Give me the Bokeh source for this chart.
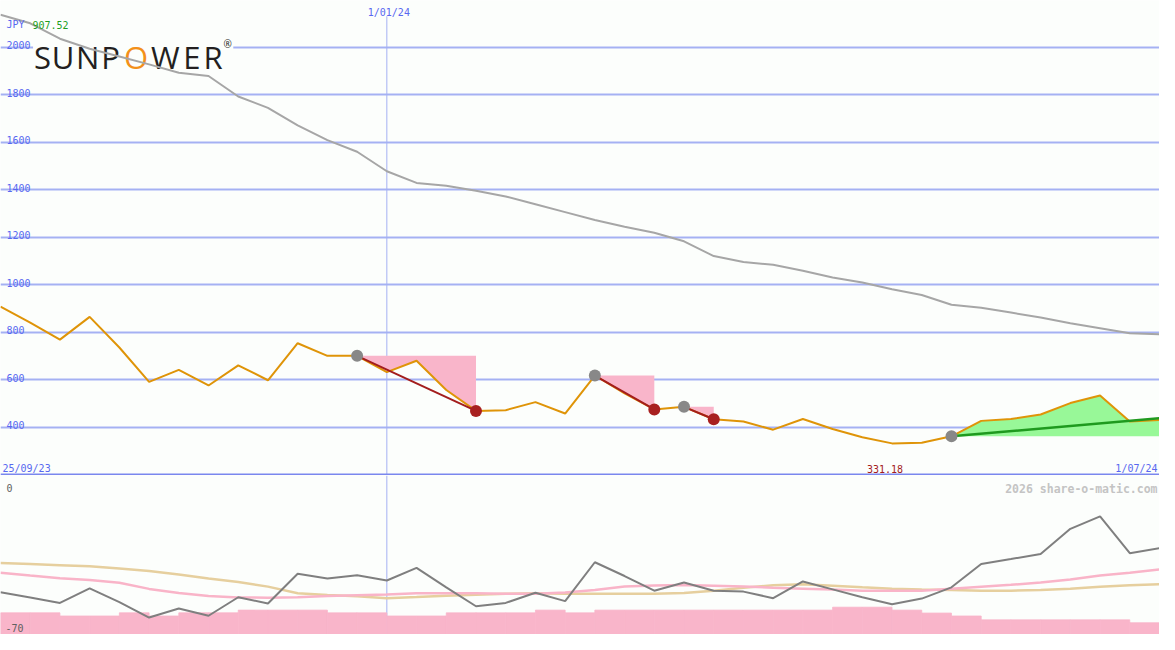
from bokeh.plotting import figure
from bokeh.models import Range1d, FixedTicker, Grid, BoxAnnotation, Span, ColumnDataSource
from bokeh.layouts import column
from bokeh.embed import file_html
from bokeh.resources import INLINE
from bokeh.core.properties import value

# ---------------- data ----------------
start_label = "25/09/23"
mid_label = "1/01/24"
end_label = "1/07/24"
mid_index = 13
currency = "JPY"
headline_value = "907.52"
min_label = "331.18"

price = [907.52, 840, 768, 864, 735, 590, 641, 575, 660, 597,
         753, 700, 700, 631, 679, 556, 468, 471, 505, 457,
         617, 542, 474, 485, 433, 423, 389, 434, 392, 357,
         331.18, 334, 361, 426, 434, 453, 501, 533, 423, 430]

long_avg = [2136, 2100, 2035, 1993, 1960, 1927, 1892, 1878, 1792, 1744,
            1670, 1608, 1559, 1477, 1428, 1416, 1395, 1371, 1338, 1305,
            1272, 1243, 1218, 1182, 1120, 1095, 1083, 1058, 1030, 1009,
            980, 956, 915, 902, 882, 861, 837, 816, 795, 791]

grid_levels = [400, 600, 800, 1000, 1200, 1400, 1600, 1800, 2000]

trade_entries = [12, 20, 23]
trade_exits = [16, 22, 24]
open_entry = 32
open_trend_end = 437

momentum = [-51.3, -53.6, -56.0, -49.6, -55.7, -62.5, -58.5, -61.7, -53.5, -56.3,
            -43.1, -45.2, -43.8, -46.1, -40.5, -49.1, -57.5, -56.0, -51.5, -55.2,
            -38.0, -44.1, -50.6, -47.0, -50.6, -51.0, -53.9, -46.5, -50.0, -53.5,
            -56.6, -54.1, -49.1, -38.8, -36.6, -34.3, -23.2, -17.7, -34.0, -31.8]

signal_pink = [-42.6, -43.9, -45.1, -45.9, -47.1, -49.8, -51.6, -52.9, -53.6, -53.7,
               -53.5, -53.0, -52.6, -52.3, -51.7, -51.7, -51.7, -52.0, -52.0, -51.4,
               -50.3, -48.7, -48.3, -48.1, -48.4, -48.7, -49.3, -49.7, -50.1, -50.6,
               -50.6, -50.6, -49.7, -48.8, -48.0, -47.0, -45.6, -43.9, -42.6, -41.2]

signal_tan = [-38.3, -38.8, -39.3, -39.8, -40.8, -41.9, -43.4, -45.2, -46.7, -48.8,
              -51.7, -52.5, -53.1, -53.9, -53.4, -52.8, -52.4, -52.0, -51.7, -51.9,
              -52.0, -52.0, -52.0, -51.6, -50.6, -49.3, -48.2, -47.7, -48.4, -49.1,
              -49.7, -50.1, -50.3, -50.6, -50.6, -50.3, -49.7, -48.8, -48.2, -47.7]

bar_vals = [-60.4, -60.4, -61.8, -61.8, -60.4, -61.8, -60.4, -60.4, -59.2, -59.2,
            -59.2, -60.4, -60.4, -61.8, -61.8, -60.4, -60.4, -60.4, -59.2, -60.4,
            -59.2, -59.2, -59.2, -59.2, -59.2, -59.2, -59.2, -59.2, -57.9, -57.9,
            -59.2, -60.5, -61.8, -63.5, -63.5, -63.5, -63.5, -63.5, -64.8]
lower_top_label = "0"
lower_bottom_label = "-70"
lower_min = -70
watermark = "2026 share-o-matic.com"

logo_letters = ["S", "U", "N", "P", "O", "W", "E", "R"]

# ---------------- style ----------------
W = 1159
H_TOP = 475
H_BOT = 159
SX = W / 1175.0
BG = "#fcfefc"
GRID = "#a5b1f3"
AXIS = "#7a87ee"
BLUE = "#5868f0"
ORANGE = "#df9408"
DARKRED = "#a31d1d"
PINK = "#f9b5ca"
GREEN_FILL = "#98f898"
GREEN_LINE = "#1f9a1f"
MONO = value("DejaVu Sans Mono")

n = len(price)
idx = list(range(n))
y_lo, y_hi = 196, 2196

top = figure(width=W, height=H_TOP, x_range=Range1d(0, n - 1), y_range=Range1d(y_lo, y_hi),
             x_axis_type=None, y_axis_type=None, output_backend="svg", toolbar_location=None,
             min_border=0, background_fill_color=BG, border_fill_color=BG, outline_line_color=None)

top.add_layout(Grid(dimension=1, ticker=FixedTicker(ticks=grid_levels),
                    grid_line_color=GRID, grid_line_width=2))
top.add_layout(BoxAnnotation(left=33 * SX, right=236 * SX, top=H_TOP - 29, bottom=H_TOP - 65,
                             left_units="screen", right_units="screen",
                             top_units="screen", bottom_units="screen",
                             fill_color=BG, fill_alpha=1.0, line_color=None, level="underlay"))

# vertical date line
top.segment(x0=[mid_index], y0=[y_lo], x1=[mid_index], y1=[2130], line_color=GRID, line_width=1)

# logo (letter centres)
logo_cx = [42.5, 63.5, 88.5, 111.5, 137.5, 167, 194, 215.5]
logo_src = ColumnDataSource(dict(
    x=[0] * len(logo_letters), y=[y_hi] * len(logo_letters), t=logo_letters,
    xo=[v * SX for v in logo_cx],
    c=["#f39019" if ch == "O" else "#231f20" for ch in logo_letters]))
top.text(x="x", y="y", text="t", x_offset="xo", y_offset=56, text_color="c",
         text_font=value("Open Sans"), text_font_size="31px", text_baseline="alphabetic",
         text_align="center", source=logo_src)
top.text(x=[0], y=[y_hi], text=["®"], x_offset=226 * SX, y_offset=43, text_color="#231f20",
         text_font=value("Open Sans"), text_font_size="10px", text_baseline="alphabetic")

# trade loss areas
pxs, pys = [], []
for e, x in zip(trade_entries, trade_exits):
    back = list(range(x, e - 1, -1))
    pxs.append([e, x] + back)
    pys.append([price[e], price[e]] + [price[k] for k in back])
top.patches(pxs, pys, fill_color=PINK, line_color=None)

# open trade gain area
fwd = list(range(open_entry, n))
top.patch(fwd + [n - 1, open_entry], [price[k] for k in fwd] + [price[open_entry], price[open_entry]],
          fill_color=GREEN_FILL, line_color=None)

top.line(idx, long_avg, line_color="#a6a6a6", line_width=2)
top.line(idx, price, line_color=ORANGE, line_width=2)

top.segment(x0=trade_entries, y0=[price[e] for e in trade_entries],
            x1=trade_exits, y1=[price[x] for x in trade_exits], line_color=DARKRED, line_width=2)
top.line([open_entry, n - 1], [price[open_entry], open_trend_end], line_color=GREEN_LINE, line_width=2.5)

top.scatter(trade_entries + [open_entry], [price[e] for e in trade_entries + [open_entry]],
            size=12, fill_color="#888888", line_color=None)
top.scatter(trade_exits, [price[x] for x in trade_exits], size=12, fill_color="#a82020", line_color=None)

top.add_layout(Span(location=200, dimension="width", line_color=AXIS, line_width=2))

# grid labels
top.text(x=[0] * len(grid_levels), y=grid_levels, text=[str(v) for v in grid_levels],
         x_offset=6, y_offset=-2, text_color=BLUE, text_font=MONO, text_font_size="10px",
         text_baseline="alphabetic", text_align="left")
top.text(x=[0], y=[y_hi], text=[currency], x_offset=6, y_offset=24, text_color=BLUE,
         text_font=MONO, text_font_size="10px", text_baseline="alphabetic")
top.text(x=[0], y=[y_hi], text=[headline_value], x_offset=32, y_offset=24, text_color="#1e9e1e",
         text_font=MONO, text_font_size="10px", text_baseline="alphabetic")
top.text(x=[mid_index], y=[y_hi], text=[mid_label], x_offset=2, y_offset=12, text_color=BLUE,
         text_font=MONO, text_font_size="10px", text_baseline="alphabetic", text_align="center")
top.text(x=[0], y=[200], text=[start_label], x_offset=2, y_offset=-6, text_color=BLUE,
         text_font=MONO, text_font_size="10px", text_baseline="alphabetic", text_align="left")
top.text(x=[n - 1], y=[200], text=[end_label], x_offset=-2, y_offset=-6, text_color=BLUE,
         text_font=MONO, text_font_size="10px", text_baseline="alphabetic", text_align="right")
min_i = price.index(min(price))
top.text(x=[min_i], y=[200], text=[min_label], x_offset=-7, y_offset=-6, text_color=DARKRED,
         text_font=MONO, text_font_size="10px", text_baseline="alphabetic", text_align="center")

# ---------------- lower panel ----------------
bot = figure(width=W, height=H_BOT, x_range=top.x_range, y_range=Range1d(lower_min, 0.43),
             x_axis_type=None, y_axis_type=None, output_backend="svg", toolbar_location=None,
             min_border=0, background_fill_color=BG, border_fill_color=BG, outline_line_color=None)

bot.add_layout(Span(location=mid_index, dimension="height", line_color=GRID, line_width=1,
                    level="underlay"))
bot.vbar(x=[i + 0.5 for i in range(len(bar_vals))], width=1, top=bar_vals, bottom=lower_min,
         fill_color=PINK, line_color=PINK, line_width=0.8)
bot.line(idx, signal_tan, line_color="#e6cf9e", line_width=2.5)
bot.line(idx, signal_pink, line_color="#f9b4c8", line_width=2.5)
bot.line(idx, momentum, line_color="#7f7f7f", line_width=2)

bot.text(x=[0], y=[0], text=[lower_top_label], x_offset=6, y_offset=12, text_color="#606060",
         text_font=MONO, text_font_size="10px", text_baseline="alphabetic")
bot.text(x=[0], y=[lower_min], text=[lower_bottom_label], x_offset=5, y_offset=-7, text_color="#606060",
         text_font=MONO, text_font_size="10px", text_baseline="alphabetic")
bot.text(x=[n - 1], y=[0], text=[watermark], x_offset=-2, y_offset=12.5, text_color="#c4c4c4",
         text_font=MONO, text_font_size="11.5px", text_font_style="bold",
         text_baseline="alphabetic", text_align="right")

layout = column(top, bot, spacing=0)
open("out.html", "w").write(file_html(layout, INLINE))
